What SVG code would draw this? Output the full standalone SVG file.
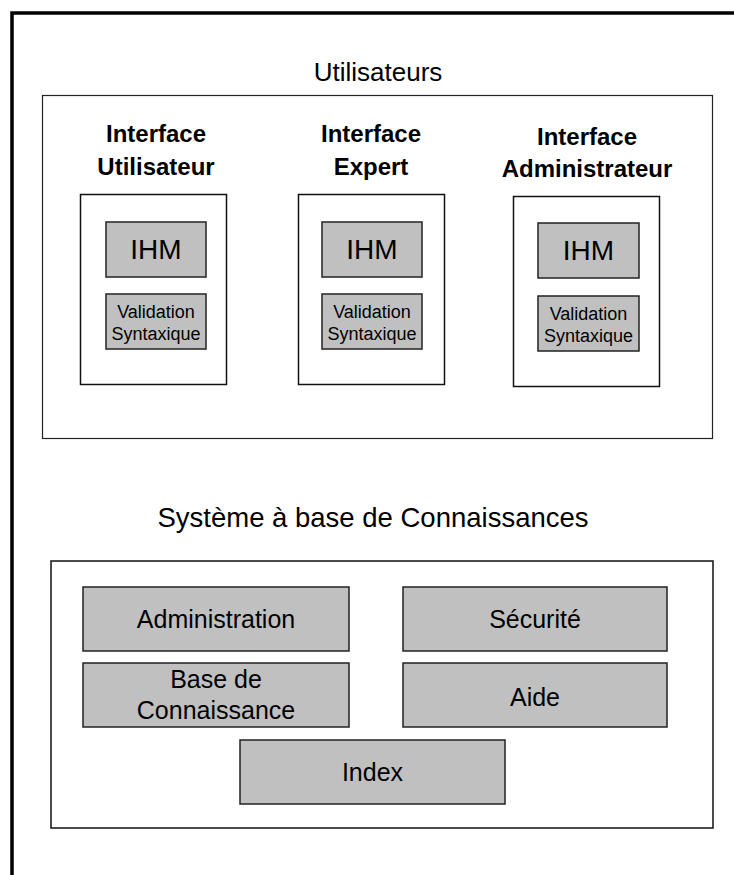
<svg xmlns="http://www.w3.org/2000/svg" width="734" height="875" viewBox="0 0 734 875">
<style>
.frame{fill:none;stroke:#000;stroke-width:3.5}
.panel{fill:#fff;stroke:#222;stroke-width:1.2}
.inner{fill:#fff;stroke:#111;stroke-width:1.5}
.mod{fill:#c0c0c0;stroke:#222;stroke-width:1.5}
text{font-family:"Liberation Sans",Arial,sans-serif;fill:#000;text-anchor:middle}
.title{font-size:26px}
.lbl{font-size:24px;font-weight:bold}
.ihm{font-size:28px}
.val{font-size:18px}
.big{font-size:25px}
</style>
<rect x="0" y="0" width="734" height="875" fill="#fff"/>
<path class="frame" d="M12,875 V13 H734"/>
<text class="title" x="378" y="81">Utilisateurs</text>
<g id="utilisateurs">
<rect class="panel" x="42.5" y="95.5" width="670" height="343"/>
</g>
<g id="interface-utilisateur">
<text class="lbl" x="156" y="142">Interface</text>
<text class="lbl" x="156" y="175">Utilisateur</text>
<rect class="inner" x="80.5" y="194.5" width="146" height="190"/>
<g id="ihm1"><rect class="mod" x="106" y="222" width="100" height="55"/><text class="ihm" x="156" y="259">IHM</text></g>
<g id="val1"><rect class="mod" x="106" y="294" width="100" height="55"/><text class="val" x="156" y="318">Validation</text><text class="val" x="156" y="340">Syntaxique</text></g>
</g>
<g id="interface-expert">
<text class="lbl" x="371" y="142">Interface</text>
<text class="lbl" x="371" y="175">Expert</text>
<rect class="inner" x="298.5" y="194.5" width="146" height="190"/>
<g id="ihm2"><rect class="mod" x="322" y="222" width="100" height="55"/><text class="ihm" x="372" y="259">IHM</text></g>
<g id="val2"><rect class="mod" x="322" y="294" width="100" height="55"/><text class="val" x="372" y="318">Validation</text><text class="val" x="372" y="340">Syntaxique</text></g>
</g>
<g id="interface-administrateur">
<text class="lbl" x="587" y="145">Interface</text>
<text class="lbl" x="587" y="177">Administrateur</text>
<rect class="inner" x="513.5" y="196.5" width="146" height="190"/>
<g id="ihm3"><rect class="mod" x="538" y="223" width="101" height="55"/><text class="ihm" x="588.5" y="260">IHM</text></g>
<g id="val3"><rect class="mod" x="538" y="296" width="101" height="55"/><text class="val" x="588.5" y="320">Validation</text><text class="val" x="588.5" y="342">Syntaxique</text></g>
</g>
<text class="title" x="373" y="527" style="font-size:27.5px">Système à base de Connaissances</text>
<g id="systeme">
<rect class="inner" x="51" y="561" width="662" height="267"/>
</g>
<g id="administration"><rect class="mod" x="83" y="587" width="266" height="64"/><text class="big" x="216" y="628">Administration</text></g>
<g id="securite"><rect class="mod" x="403" y="587" width="264" height="64"/><text class="big" x="535" y="628">Sécurité</text></g>
<g id="base"><rect class="mod" x="83" y="663" width="266" height="64"/><text class="big" x="216" y="688">Base de</text><text class="big" x="216" y="719">Connaissance</text></g>
<g id="aide"><rect class="mod" x="403" y="663" width="264" height="64"/><text class="big" x="535" y="706">Aide</text></g>
<g id="index"><rect class="mod" x="240" y="740" width="265" height="64"/><text class="big" x="372.5" y="781">Index</text></g>
<g id="connectors"></g>
</svg>
